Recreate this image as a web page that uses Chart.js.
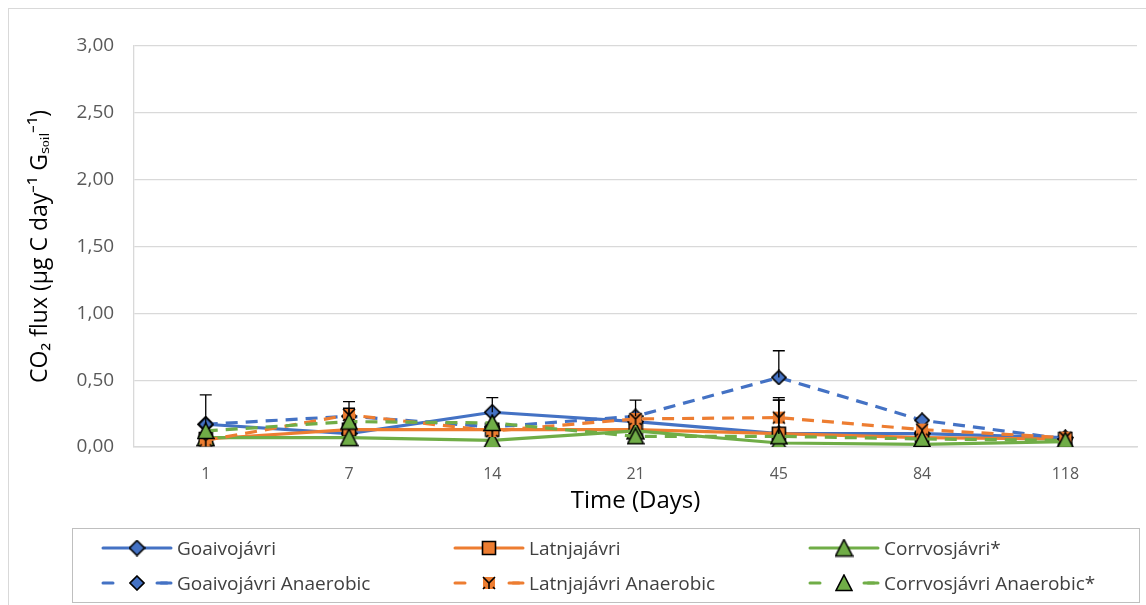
<!DOCTYPE html>
<html lang="en">
<head>
    <meta charset="UTF-8">
    <title>CO2 flux</title>
    <style>
        body { margin: 0; background: #ffffff; font-family: "Open Sans", Calibri, sans-serif; }
        #wrap { position: relative; width: 1146px; height: 605px; }
        #frame { position: absolute; left: 8px; top: 8px; width: 1150px; height: 610px; border: 1px solid #d9d9d9; box-sizing: border-box; }
        #legend {
            position: absolute; left: 72px; top: 528px; width: 1068px; height: 75px;
            border: 1px solid #bfbfbf; box-sizing: border-box;
            display: grid; grid-template-columns: 352px 355px 350px; grid-template-rows: 1fr 1fr;
            padding: 2px 0 2px 28px; font-size: 19px; color: #404040;
        }
        .item { display: flex; align-items: center; }
        .item canvas { margin-right: 4px; }
    </style>
    <script src="https://cdn.jsdelivr.net/npm/chart.js"></script>
</head>
<body>
<div id="wrap">
    <div id="frame"></div>
    <canvas id="flux" width="1146" height="605"></canvas>
    <div id="legend"></div>
</div>
<script>
    const days = ['1', '7', '14', '21', '45', '84', '118'];
    const yTicks = [0, 0.5, 1, 1.5, 2, 2.5, 3];

    const goaivo = [0.17, 0.10, 0.26, 0.19, 0.10, 0.10, 0.07];
    const latnja = [0.06, 0.13, 0.13, 0.13, 0.10, 0.07, 0.06];
    const corrvos = [0.07, 0.07, 0.05, 0.12, 0.03, 0.02, 0.04];
    const goaivoAn = [0.17, 0.23, 0.15, 0.23, 0.52, 0.20, 0.06];
    const latnjaAn = [0.05, 0.24, 0.12, 0.21, 0.22, 0.13, 0.07];
    const corrvosAn = [0.12, 0.19, 0.18, 0.08, 0.08, 0.06, 0.05];

    // plus-only error bars (Excel style)
    const goaivoErr = [0.00, 0.00, 0.11, 0.00, 0.25, 0.00, 0.00];
    const latnjaErr = [0.00, 0.00, 0.00, 0.00, 0.27, 0.00, 0.00];
    const corrvosErr = [0, 0, 0, 0, 0, 0, 0];
    const goaivoAnErr = [0.22, 0.06, 0.00, 0.12, 0.20, 0.00, 0.00];
    const latnjaAnErr = [0.00, 0.10, 0.00, 0.00, 0.13, 0.00, 0.00];
    const corrvosAnErr = [0, 0, 0, 0, 0, 0, 0];

    const BLUE = '#4472c4', ORANGE = '#ed7d31', GREEN = '#70ad47';

    function marker(kind, fill, size) {
        const c = document.createElement('canvas');
        c.width = size; c.height = size;
        const g = c.getContext('2d');
        const h = size / 2;
        g.fillStyle = fill; g.strokeStyle = '#000'; g.lineWidth = 1.6;
        g.beginPath();
        if (kind === 'diamond') {
            g.moveTo(h, 1); g.lineTo(size - 1, h); g.lineTo(h, size - 1); g.lineTo(1, h);
        } else if (kind === 'square') {
            g.rect(1.5, 1.5, size - 3, size - 3);
        } else if (kind === 'triangle') {
            g.moveTo(h, 1); g.lineTo(size - 1, size - 1.5); g.lineTo(1, size - 1.5);
        } else if (kind === 'xbox') {
            g.rect(2, 2, size - 4, size - 4);
            g.fill();
            g.beginPath();
            g.moveTo(2, 2); g.lineTo(h, h); g.lineTo(size - 2, 2);
            g.moveTo(h, h); g.lineTo(h, size - 2);
            g.moveTo(2, size - 2); g.lineTo(4, size - 4);
            g.moveTo(size - 2, size - 2); g.lineTo(size - 4, size - 4);
            g.stroke();
            return c;
        }
        g.closePath(); g.fill(); g.stroke();
        return c;
    }

    const series = [
        { label: 'Goaivojávri', data: goaivo, err: goaivoErr, color: BLUE, dash: [], pt: marker('diamond', BLUE, 17) },
        { label: 'Latnjajávri', data: latnja, err: latnjaErr, color: ORANGE, dash: [], pt: marker('square', ORANGE, 16) },
        { label: 'Corrvosjávri*', data: corrvos, err: corrvosErr, color: GREEN, dash: [], pt: marker('triangle', GREEN, 19) },
        { label: 'Goaivojávri Anaerobic', data: goaivoAn, err: goaivoAnErr, color: BLUE, dash: [12, 8], pt: marker('diamond', BLUE, 16) },
        { label: 'Latnjajávri Anaerobic', data: latnjaAn, err: latnjaAnErr, color: ORANGE, dash: [12, 8], pt: marker('xbox', ORANGE, 16) },
        { label: 'Corrvosjávri Anaerobic*', data: corrvosAn, err: corrvosAnErr, color: GREEN, dash: [12, 8], pt: marker('triangle', GREEN, 18) }
    ];

    const errorBars = {
        id: 'errorBars',
        afterDatasetsDraw(chart) {
            const ctx = chart.ctx;
            const y = chart.scales.y;
            ctx.save();
            ctx.strokeStyle = '#000';
            ctx.lineWidth = 1.3;
            series.forEach((s, i) => {
                const meta = chart.getDatasetMeta(i);
                s.err.forEach((e, j) => {
                    if (!e) return;
                    const p = meta.data[j];
                    const top = y.getPixelForValue(s.data[j] + e);
                    ctx.beginPath();
                    ctx.moveTo(p.x, p.y); ctx.lineTo(p.x, top);
                    ctx.moveTo(p.x - 6, top); ctx.lineTo(p.x + 6, top);
                    ctx.stroke();
                });
            });
            ctx.restore();
        }
    };

    const ctx = document.getElementById('flux').getContext('2d');
    new Chart(ctx, {
        type: 'line',
        data: {
            labels: days,
            // later series on top, as in Excel
            datasets: series.map((s, i) => ({
                label: s.label,
                data: s.data,
                order: series.length - i,
                borderColor: s.color,
                backgroundColor: s.color,
                borderWidth: 3.2,
                borderDash: s.dash,
                pointStyle: s.pt,
                tension: 0,
                fill: false
            }))
        },
        options: {
            responsive: false,
            animation: false,
            layout: { padding: { left: 23, right: 9, top: 46, bottom: 89 } },
            plugins: { legend: { display: false }, tooltip: { enabled: false } },
            scales: {
                x: {
                    offset: true,
                    grid: { display: false, drawTicks: false },
                    border: { color: '#d9d9d9', width: 1.5 },
                    ticks: { color: '#595959', font: { family: 'Open Sans', size: 16 }, padding: 18 },
                    title: { display: true, text: 'Time (Days)', color: '#000', font: { family: 'Open Sans', size: 24 }, padding: { top: -15, bottom: 0 } }
                },
                y: {
                    min: 0, max: 3,
                    afterBuildTicks: axis => { axis.ticks = yTicks.map(v => ({ value: v })); },
                    grid: { color: '#d9d9d9', lineWidth: 1.3, drawTicks: false },
                    border: { color: '#d9d9d9', width: 1.3 },
                    ticks: {
                        color: '#595959', font: { family: 'Open Sans', size: 19 }, padding: 20,
                        callback: v => v.toFixed(2).replace('.', ',')
                    },
                    title: { display: true, text: 'CO₂ flux (µg C day⁻¹ Gₛₒᵢₗ⁻¹)', color: '#000', font: { family: 'Open Sans', size: 23 }, padding: { bottom: 2 } }
                }
            }
        },
        plugins: [errorBars]
    });

    // legend, three columns like the original
    const legend = document.getElementById('legend');
    series.forEach(s => {
        const item = document.createElement('div');
        item.className = 'item';
        const c = document.createElement('canvas');
        c.width = 72; c.height = 20;
        const g = c.getContext('2d');
        g.strokeStyle = s.color; g.lineWidth = 3; g.lineCap = 'round';
        g.setLineDash(s.dash.length ? [10, 44] : []);
        g.beginPath(); g.moveTo(2, 10); g.lineTo(70, 10); g.stroke();
        if (s.dash.length) { g.beginPath(); g.moveTo(60, 10); g.lineTo(70, 10); g.stroke(); }
        g.drawImage(s.pt, 36 - s.pt.width / 2, 10 - s.pt.height / 2);
        item.appendChild(c);
        const t = document.createElement('span');
        t.textContent = s.label;
        item.appendChild(t);
        legend.appendChild(item);
    });
</script>
</body>
</html>
